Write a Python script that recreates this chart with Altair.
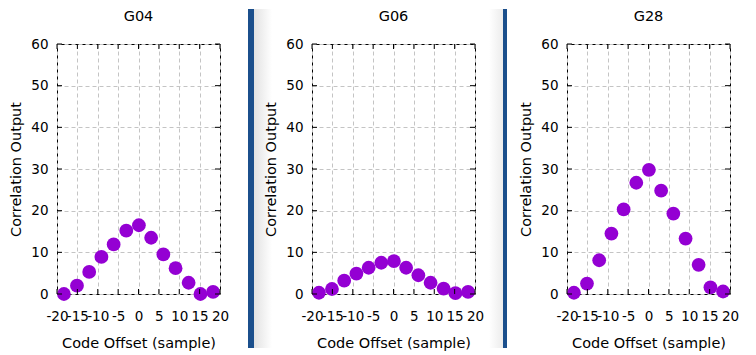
import altair as alt
import pandas as pd

# ---- data ----
offsets = [-18.3, -15.1, -12.1, -9.1, -6.1, -3.0, 0.1, 3.1, 6.1, 9.1, 12.3, 15.2, 18.3]
g04 = [0.0, 2.0, 5.3, 8.9, 11.9, 15.2, 16.5, 13.5, 9.5, 6.2, 2.7, 0.0, 0.5]
g06 = [0.3, 1.2, 3.2, 4.9, 6.3, 7.5, 7.9, 6.3, 4.5, 2.7, 1.3, 0.2, 0.5]
g28 = [0.3, 2.5, 8.1, 14.5, 20.3, 26.7, 29.8, 24.8, 19.3, 13.3, 7.0, 1.6, 0.6]
names = ["G04", "G06", "G28"]
x_ticks = [-20, -15, -10, -5, 0, 5, 10, 15, 20]
y_ticks = [0, 10, 20, 30, 40, 50, 60]

W, H = 163, 250
FONT = "DejaVu Sans"
PURPLE = "#9400d3"
BAR = "#1b4f8c"

XS = alt.Scale(domain=[-20, 20], nice=False, zero=False)
YS = alt.Scale(domain=[0, 60], nice=False)
COMMON = dict(
    grid=True, gridDash=[4, 3], gridColor="#c4c4c4", gridWidth=1,
    domain=False, ticks=False, labelOverlap=False, labelFlush=False,
    labelFont=FONT, labelFontSize=13.5, labelColor="black",
    labelExpr="'' + datum.value",
    titleFont=FONT, titleFontSize=14.5, titleFontWeight="normal",
    titleColor="black",
)
XAXIS = alt.Axis(values=x_ticks, title="Code Offset (sample)",
                 labelPadding=15, titlePadding=14, **COMMON)
YAXIS = alt.Axis(values=y_ticks, title="Correlation Output",
                 labelPadding=9, titlePadding=7, **COMMON)


def X():
    return alt.X("x:Q", scale=XS, axis=XAXIS)


def Y():
    return alt.Y("y:Q", scale=YS, axis=YAXIS)


def panel(name, vals, bar=None, grad_right=False, grad_left=False):
    df = pd.DataFrame({"x": offsets, "y": vals})
    ydf = pd.DataFrame({"y": y_ticks})
    xdf = pd.DataFrame({"x": x_ticks})
    one = pd.DataFrame({"name": [name]})

    points = alt.Chart(df).mark_circle(size=190, color=PURPLE, opacity=1).encode(
        x=X(), y=Y())
    yl = alt.Chart(ydf).mark_rule(color="black").encode(
        y=Y(), x=alt.value(0), x2=alt.value(5))
    yr = alt.Chart(ydf).mark_rule(color="black").encode(
        y=Y(), x=alt.value(W - 5), x2=alt.value(W))
    xb = alt.Chart(xdf).mark_rule(color="black").encode(
        x=X(), y=alt.value(H - 5), y2=alt.value(H))
    xt = alt.Chart(xdf).mark_rule(color="black").encode(
        x=X(), y=alt.value(0), y2=alt.value(5))
    title = alt.Chart(one).mark_text(
        font=FONT, fontSize=14.5, color="black", align="center", baseline="middle"
    ).encode(x=alt.value(W / 2), y=alt.value(-27.5), text="name:N")

    layers = []
    if grad_right:
        layers.append(alt.Chart(one).mark_rect(
            color=alt.Gradient(gradient="linear",
                               stops=[alt.GradientStop(color="#e2e2e2", offset=0),
                                      alt.GradientStop(color="#ffffff", offset=1)],
                               x1=0, x2=1, y1=0, y2=0)
        ).encode(x=alt.value(W + 34), x2=alt.value(W + 52),
                 y=alt.value(-35), y2=alt.value(H + 54)))
    if grad_left:
        layers.append(alt.Chart(one).mark_rect(
            color=alt.Gradient(gradient="linear",
                               stops=[alt.GradientStop(color="#ffffff", offset=0),
                                      alt.GradientStop(color="#ececec", offset=1)],
                               x1=0, x2=1, y1=0, y2=0)
        ).encode(x=alt.value(W + 14), x2=alt.value(W + 28),
                 y=alt.value(-35), y2=alt.value(H + 54)))
    if bar is not None:
        layers.append(alt.Chart(one).mark_rect(color=BAR).encode(
            x=alt.value(W + 28), x2=alt.value(W + 28 + bar),
            y=alt.value(-35), y2=alt.value(H + 54)))

    return alt.layer(*(layers + [points, yl, yr, xb, xt, title])).properties(
        width=W, height=H)


p1 = panel(names[0], g04, bar=6, grad_right=True)
p2 = panel(names[1], g06, bar=4, grad_left=True)
p3 = panel(names[2], g28)

chart = alt.hconcat(p1, p2, p3, spacing=92, bounds="flush").properties(
    padding={"left": 0, "top": 0, "right": 0, "bottom": 0}
).configure_view(stroke="black", strokeWidth=1)

chart.save("out.html", embed_options={"renderer": "svg", "actions": False})
